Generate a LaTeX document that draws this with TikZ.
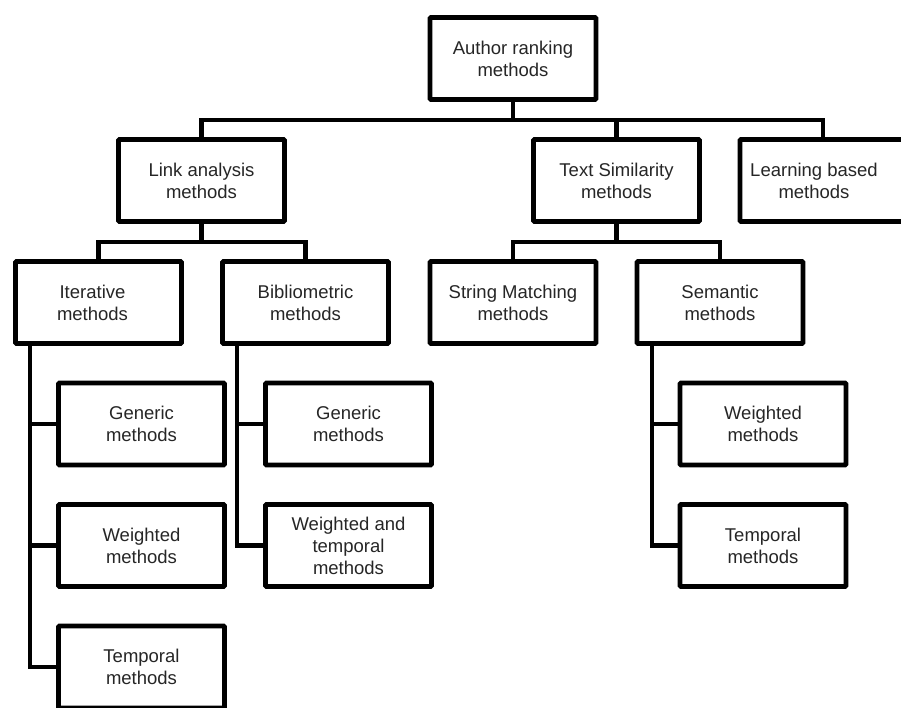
\documentclass[tikz,border=0pt]{standalone}
\usepackage{fontspec}
\setmainfont{Liberation Sans}
\begin{document}
\begin{tikzpicture}[x=1pt,y=-1pt,
  box/.style={draw=black,line width=4.8pt,fill=white,minimum width=166pt,minimum height=82pt,
    inner sep=0pt,outer sep=0pt,align=center,rounded corners=1pt,
    font=\fontsize{18.5}{22}\selectfont,text=black!85},
  lbl/.style={font=\fontsize{18.5}{22}\selectfont,text=black!85,align=center},
  conn/.style={draw=black,line width=4.8pt,line join=miter}]
\useasboundingbox[fill=white] (0,0) rectangle (901,707);
% bus levels / vertical rails
\coordinate (bus1) at (0,120);
\coordinate (bus2) at (0,242);
\coordinate (iv) at (30,0);
\coordinate (bv) at (237,0);
\coordinate (sv) at (652,0);
% nodes
\node[box] (root) at (513,58.5) {Author ranking\\methods};
\node[box] (link) at (201.5,180.5) {Link analysis\\methods};
\node[box] (ts) at (616.5,180.5) {Text Similarity\\methods};
\node[box,label={[lbl,xshift=-9pt]center:Learning based\\methods}] (learn) at (823,180.5) {};
\node[box,label={[lbl,xshift=-6pt]center:Iterative\\methods}] (iter) at (98.5,302.5) {};
\node[box] (bib) at (305.5,302.5) {Bibliometric\\methods};
\node[box] (str) at (513,302.5) {String Matching\\methods};
\node[box] (sem) at (720,302.5) {Semantic\\methods};
\node[box] (gen1) at (141.5,424) {Generic\\methods};
\node[box] (wei1) at (141.5,545.5) {Weighted\\methods};
\node[box] (tem1) at (141.5,667) {Temporal\\methods};
\node[box] (gen2) at (348.5,424) {Generic\\methods};
\node[box] (wt2) at (348.5,545.5) {Weighted and\\temporal\\methods};
\node[box] (wei3) at (763,424) {Weighted\\methods};
\node[box] (tem3) at (763,545.5) {Temporal\\methods};
% tree links between named nodes
\draw[conn] (root.south) -- (root.south |- bus1);
\draw[conn] (link.north) |- (learn.north |- bus1) -- (learn.north);
\draw[conn] (ts.north) -- (ts.north |- bus1);
\draw[conn] (link.south) -- (link.south |- bus2);
\draw[conn] (iter.north) |- (bib.north |- bus2) -- (bib.north);
\draw[conn] (ts.south) -- (ts.south |- bus2);
\draw[conn] (str.north) |- (sem.north |- bus2) -- (sem.north);
\draw[conn] (iter.south -| iv) |- (tem1.west);
\draw[conn] (iv |- gen1.west) -- (gen1.west);
\draw[conn] (iv |- wei1.west) -- (wei1.west);
\draw[conn] (bib.south -| bv) |- (wt2.west);
\draw[conn] (bv |- gen2.west) -- (gen2.west);
\draw[conn] (sem.south -| sv) |- (tem3.west);
\draw[conn] (sv |- wei3.west) -- (wei3.west);
\end{tikzpicture}
\end{document}
